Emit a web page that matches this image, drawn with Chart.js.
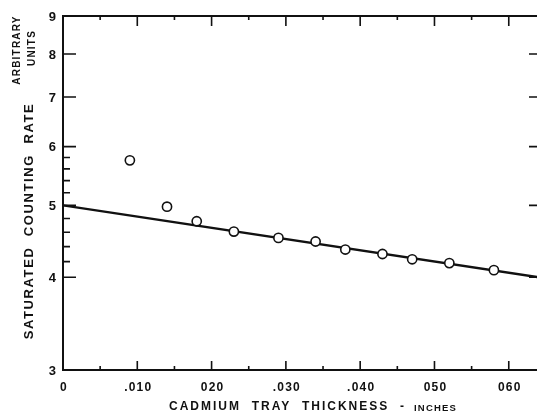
<!DOCTYPE html>
<html>
<head>
<meta charset="utf-8">
<script src="https://cdn.jsdelivr.net/npm/chart.js@4/dist/chart.umd.min.js"></script>
<style>
  html, body { margin: 0; padding: 0; background: #fff; }
  #wrap { width: 537px; height: 414px; position: relative; }
</style>
</head>
<body>
<div id="wrap"><canvas id="grafico"></canvas></div>
<script>
// datos
const espesor = [0.009, 0.014, 0.018, 0.023, 0.029, 0.034, 0.038, 0.043, 0.047, 0.052, 0.058];
const tasaConteo = [5.75, 4.98, 4.76, 4.61, 4.52, 4.47, 4.36, 4.30, 4.23, 4.18, 4.09];
const ajusteX = [0, 0.064];
const ajusteY = [5.0, 4.0];

const ticksYMayores = [3, 4, 5, 6, 7, 8, 9];
const ticksYMenores = [4.2, 4.4, 4.6, 4.8, 5.2, 5.4, 5.6, 5.8];
const ticksYDerecha = [4, 5, 6, 7, 8];
const ticksXValores = [0, 0.01, 0.02, 0.03, 0.04, 0.05, 0.06];
const ticksXEtiquetas = ['0', '.010', '020', '.030', '.040', '050', '060'];
const ticksXMenores = [0.005, 0.015, 0.025, 0.035, 0.045, 0.055];

const TINTA = '#111';
const FUENTE = '"Liberation Sans", Arial, sans-serif';

function textoEspaciado(ctx, texto, x, y, espacio) {
    ctx.letterSpacing = espacio + 'px';
    ctx.fillText(texto, x, y);
    ctx.letterSpacing = '0px';
}

// Plugin para ejes, marcas y titulos al estilo de la figura original
const ejesPlugin = {
    id: 'ejesFigura',
    afterDraw(chart) {
        const ctx = chart.ctx;
        const { left, right, top, bottom } = chart.chartArea;
        const sx = chart.scales.x;
        const sy = chart.scales.y;

        ctx.save();
        ctx.strokeStyle = TINTA;
        ctx.fillStyle = TINTA;
        ctx.lineCap = 'butt';

        // lineas de ejes (izquierda, abajo, arriba)
        ctx.lineWidth = 2;
        ctx.beginPath();
        ctx.moveTo(left, top);
        ctx.lineTo(left, bottom);
        ctx.moveTo(left - 1, bottom);
        ctx.lineTo(right, bottom);
        ctx.moveTo(left - 1, top);
        ctx.lineTo(right, top);
        ctx.stroke();

        // marcas eje Y
        ctx.lineWidth = 1.6;
        ctx.beginPath();
        ticksYMayores.forEach(v => {
            const y = sy.getPixelForValue(v);
            ctx.moveTo(left, y);
            ctx.lineTo(left + 13, y);
        });
        ticksYMenores.forEach(v => {
            const y = sy.getPixelForValue(v);
            ctx.moveTo(left, y);
            ctx.lineTo(left + 7, y);
        });
        ticksYDerecha.forEach(v => {
            const y = sy.getPixelForValue(v);
            ctx.moveTo(right, y);
            ctx.lineTo(right - 8, y);
        });
        // marcas eje X (abajo y arriba)
        ticksXValores.forEach(v => {
            if (v === 0) return;
            const x = sx.getPixelForValue(v);
            ctx.moveTo(x, bottom);
            ctx.lineTo(x, bottom - 9);
            ctx.moveTo(x, top);
            ctx.lineTo(x, top + 10);
        });
        ticksXMenores.forEach(v => {
            const x = sx.getPixelForValue(v);
            ctx.moveTo(x, bottom);
            ctx.lineTo(x, bottom - 4);
            ctx.moveTo(x, top);
            ctx.lineTo(x, top + 4);
        });
        ctx.stroke();

        // etiquetas Y
        ctx.font = 'bold 13px ' + FUENTE;
        ctx.textAlign = 'right';
        ctx.textBaseline = 'middle';
        ticksYMayores.forEach(v => {
            ctx.fillText(String(v), left - 7, sy.getPixelForValue(v) + 1);
        });

        // etiquetas X
        ctx.font = 'bold 12px ' + FUENTE;
        ctx.textAlign = 'center';
        ctx.textBaseline = 'middle';
        ticksXValores.forEach((v, i) => {
            textoEspaciado(ctx, ticksXEtiquetas[i], sx.getPixelForValue(v) + 1, bottom + 18, 1.2);
        });

        // titulo X
        ctx.textAlign = 'left';
        ctx.textBaseline = 'middle';
        ctx.font = 'bold 12px ' + FUENTE;
        textoEspaciado(ctx, 'CADMIUM  TRAY  THICKNESS  -', 169, 407, 2);
        ctx.font = 'bold 9.5px ' + FUENTE;
        textoEspaciado(ctx, 'INCHES', 414, 408, 1.2);

        // titulo Y (rotado)
        ctx.save();
        ctx.translate(29, 221);
        ctx.rotate(-Math.PI / 2);
        ctx.textAlign = 'center';
        ctx.font = 'bold 13px ' + FUENTE;
        textoEspaciado(ctx, 'SATURATED  COUNTING  RATE', 0, 0, 1.6);
        ctx.restore();

        ctx.save();
        ctx.translate(17, 50);
        ctx.rotate(-Math.PI / 2);
        ctx.textAlign = 'center';
        ctx.font = 'bold 10px ' + FUENTE;
        textoEspaciado(ctx, 'ARBITRARY', 0, 0, 1.2);
        ctx.restore();

        ctx.save();
        ctx.translate(32, 48);
        ctx.rotate(-Math.PI / 2);
        ctx.textAlign = 'center';
        ctx.font = 'bold 10px ' + FUENTE;
        textoEspaciado(ctx, 'UNITS', 0, 0, 1.2);
        ctx.restore();

        ctx.restore();
    }
};

function inicializarGrafico() {
    const canvas = document.getElementById('grafico');
    if (!canvas) return;

    new Chart(canvas, {
        type: 'scatter',
        data: {
            datasets: [{
                label: 'Ajuste',
                type: 'line',
                data: ajusteX.map((x, i) => ({ x: x, y: ajusteY[i] })),
                borderColor: TINTA,
                borderWidth: 2.4,
                pointRadius: 0,
                fill: false,
                order: 2
            }, {
                label: 'Medidas',
                data: espesor.map((x, i) => ({ x: x, y: tasaConteo[i] })),
                pointRadius: 4.6,
                pointBorderWidth: 1.6,
                pointBorderColor: TINTA,
                pointBackgroundColor: '#fff',
                order: 1
            }]
        },
        options: {
            responsive: false,
            animation: false,
            layout: { autoPadding: false, padding: { left: 63, right: 0, top: 16, bottom: 44 } },
            plugins: {
                legend: { display: false },
                tooltip: { enabled: false }
            },
            scales: {
                x: { type: 'linear', min: 0, max: 0.0638, display: false },
                y: { type: 'logarithmic', min: 3, max: 9, display: false }
            }
        },
        plugins: [ejesPlugin]
    });
}

document.addEventListener('DOMContentLoaded', function() {
    const canvas = document.getElementById('grafico');
    canvas.width = 537;
    canvas.height = 414;
    inicializarGrafico();
});
</script>
</body>
</html>
